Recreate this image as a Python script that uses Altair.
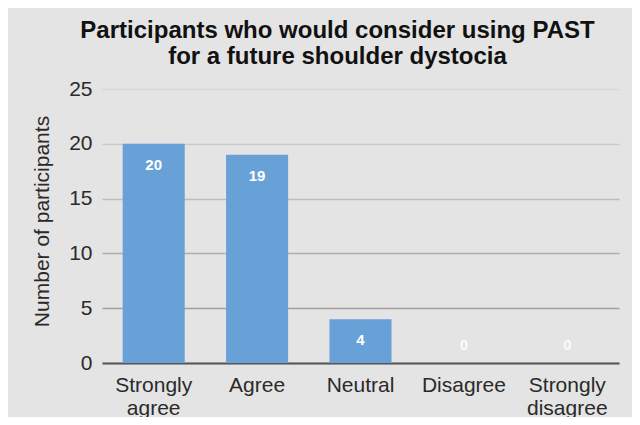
import altair as alt
import pandas as pd

categories = ["Strongly agree", "Agree", "Neutral", "Disagree", "Strongly disagree"]
counts = [20, 19, 4, 0, 0]
y_ticks = [0, 5, 10, 15, 20, 25]
title_lines = ["Participants who would consider using PAST", "for a future shoulder dystocia"]

df = pd.DataFrame({"category": categories, "count": counts})

FONT = "Liberation Sans"

x_enc = alt.X(
    "category:N",
    sort=categories,
    title=None,
    scale=alt.Scale(paddingInner=0.4, paddingOuter=0.2),
    axis=alt.Axis(
        labelExpr="split(datum.label, ' ')",
        labelAngle=0,
        labelFontSize=21,
        labelFont=FONT,
        labelColor="#2a2a2a",
        labelPadding=11,
        labelLineHeight=23,
        ticks=False,
        domainColor="#595959",
        domainWidth=2,
        grid=False,
    ),
)

y_enc = alt.Y(
    "count:Q",
    title="Number of participants",
    scale=alt.Scale(domain=[0, 25], nice=False),
    axis=alt.Axis(
        values=y_ticks,
        labelFontSize=21,
        labelFont=FONT,
        labelColor="#2a2a2a",
        labelPadding=10,
        ticks=False,
        domain=False,
        grid=True,
        gridColor={
            "condition": [
                {"test": "datum.value >= 25", "value": "#d6d6d6"},
                {"test": "datum.value >= 20", "value": "#cacaca"},
                {"test": "datum.value >= 15", "value": "#bcbcbc"},
                {"test": "datum.value >= 10", "value": "#aeaeae"},
            ],
            "value": "#a0a0a0",
        },
        gridWidth=1.5,
        titleFontSize=21,
        titleFont=FONT,
        titleFontWeight="normal",
        titleColor="#2a2a2a",
        titleX=-60,
        titleY=132,
        titleAngle=270,
        titleAlign="center",
        titleBaseline="middle",
    ),
)

base = alt.Chart(df)

bars = base.mark_bar(color="#68a1d8").encode(x=x_enc, y=y_enc)

labels_in = base.transform_filter("datum.count > 0").mark_text(
    baseline="top", dy=14, color="white", fontWeight="bold", fontSize=15, font=FONT
).encode(x=alt.X("category:N", sort=categories), y="count:Q", text="count:Q")

labels_zero = base.transform_filter("datum.count == 0").mark_text(
    baseline="bottom", dy=-10, color="white", fontWeight="bold", fontSize=15, font=FONT, opacity=0.85
).encode(x=alt.X("category:N", sort=categories), y="count:Q", text="count:Q")

chart = (
    alt.layer(bars, labels_in, labels_zero)
    .properties(
        width=517,
        height=274,
        autosize=alt.AutoSizeParams(type="none"),
        padding={"left": 94, "top": 81, "right": 13, "bottom": 54},
        background="#e4e4e4",
        title=alt.TitleParams(
            text=title_lines,
            fontSize=24,
            font=FONT,
            fontWeight="bold",
            color="#111111",
            lineHeight=26,
            anchor="middle",
            baseline="bottom",
            dx=-23,
            dy=35,
            offset=20,
        ),
    )
    .configure_view(stroke=None)
)

chart.save("out.html", embed_options={"renderer": "svg", "actions": False})
